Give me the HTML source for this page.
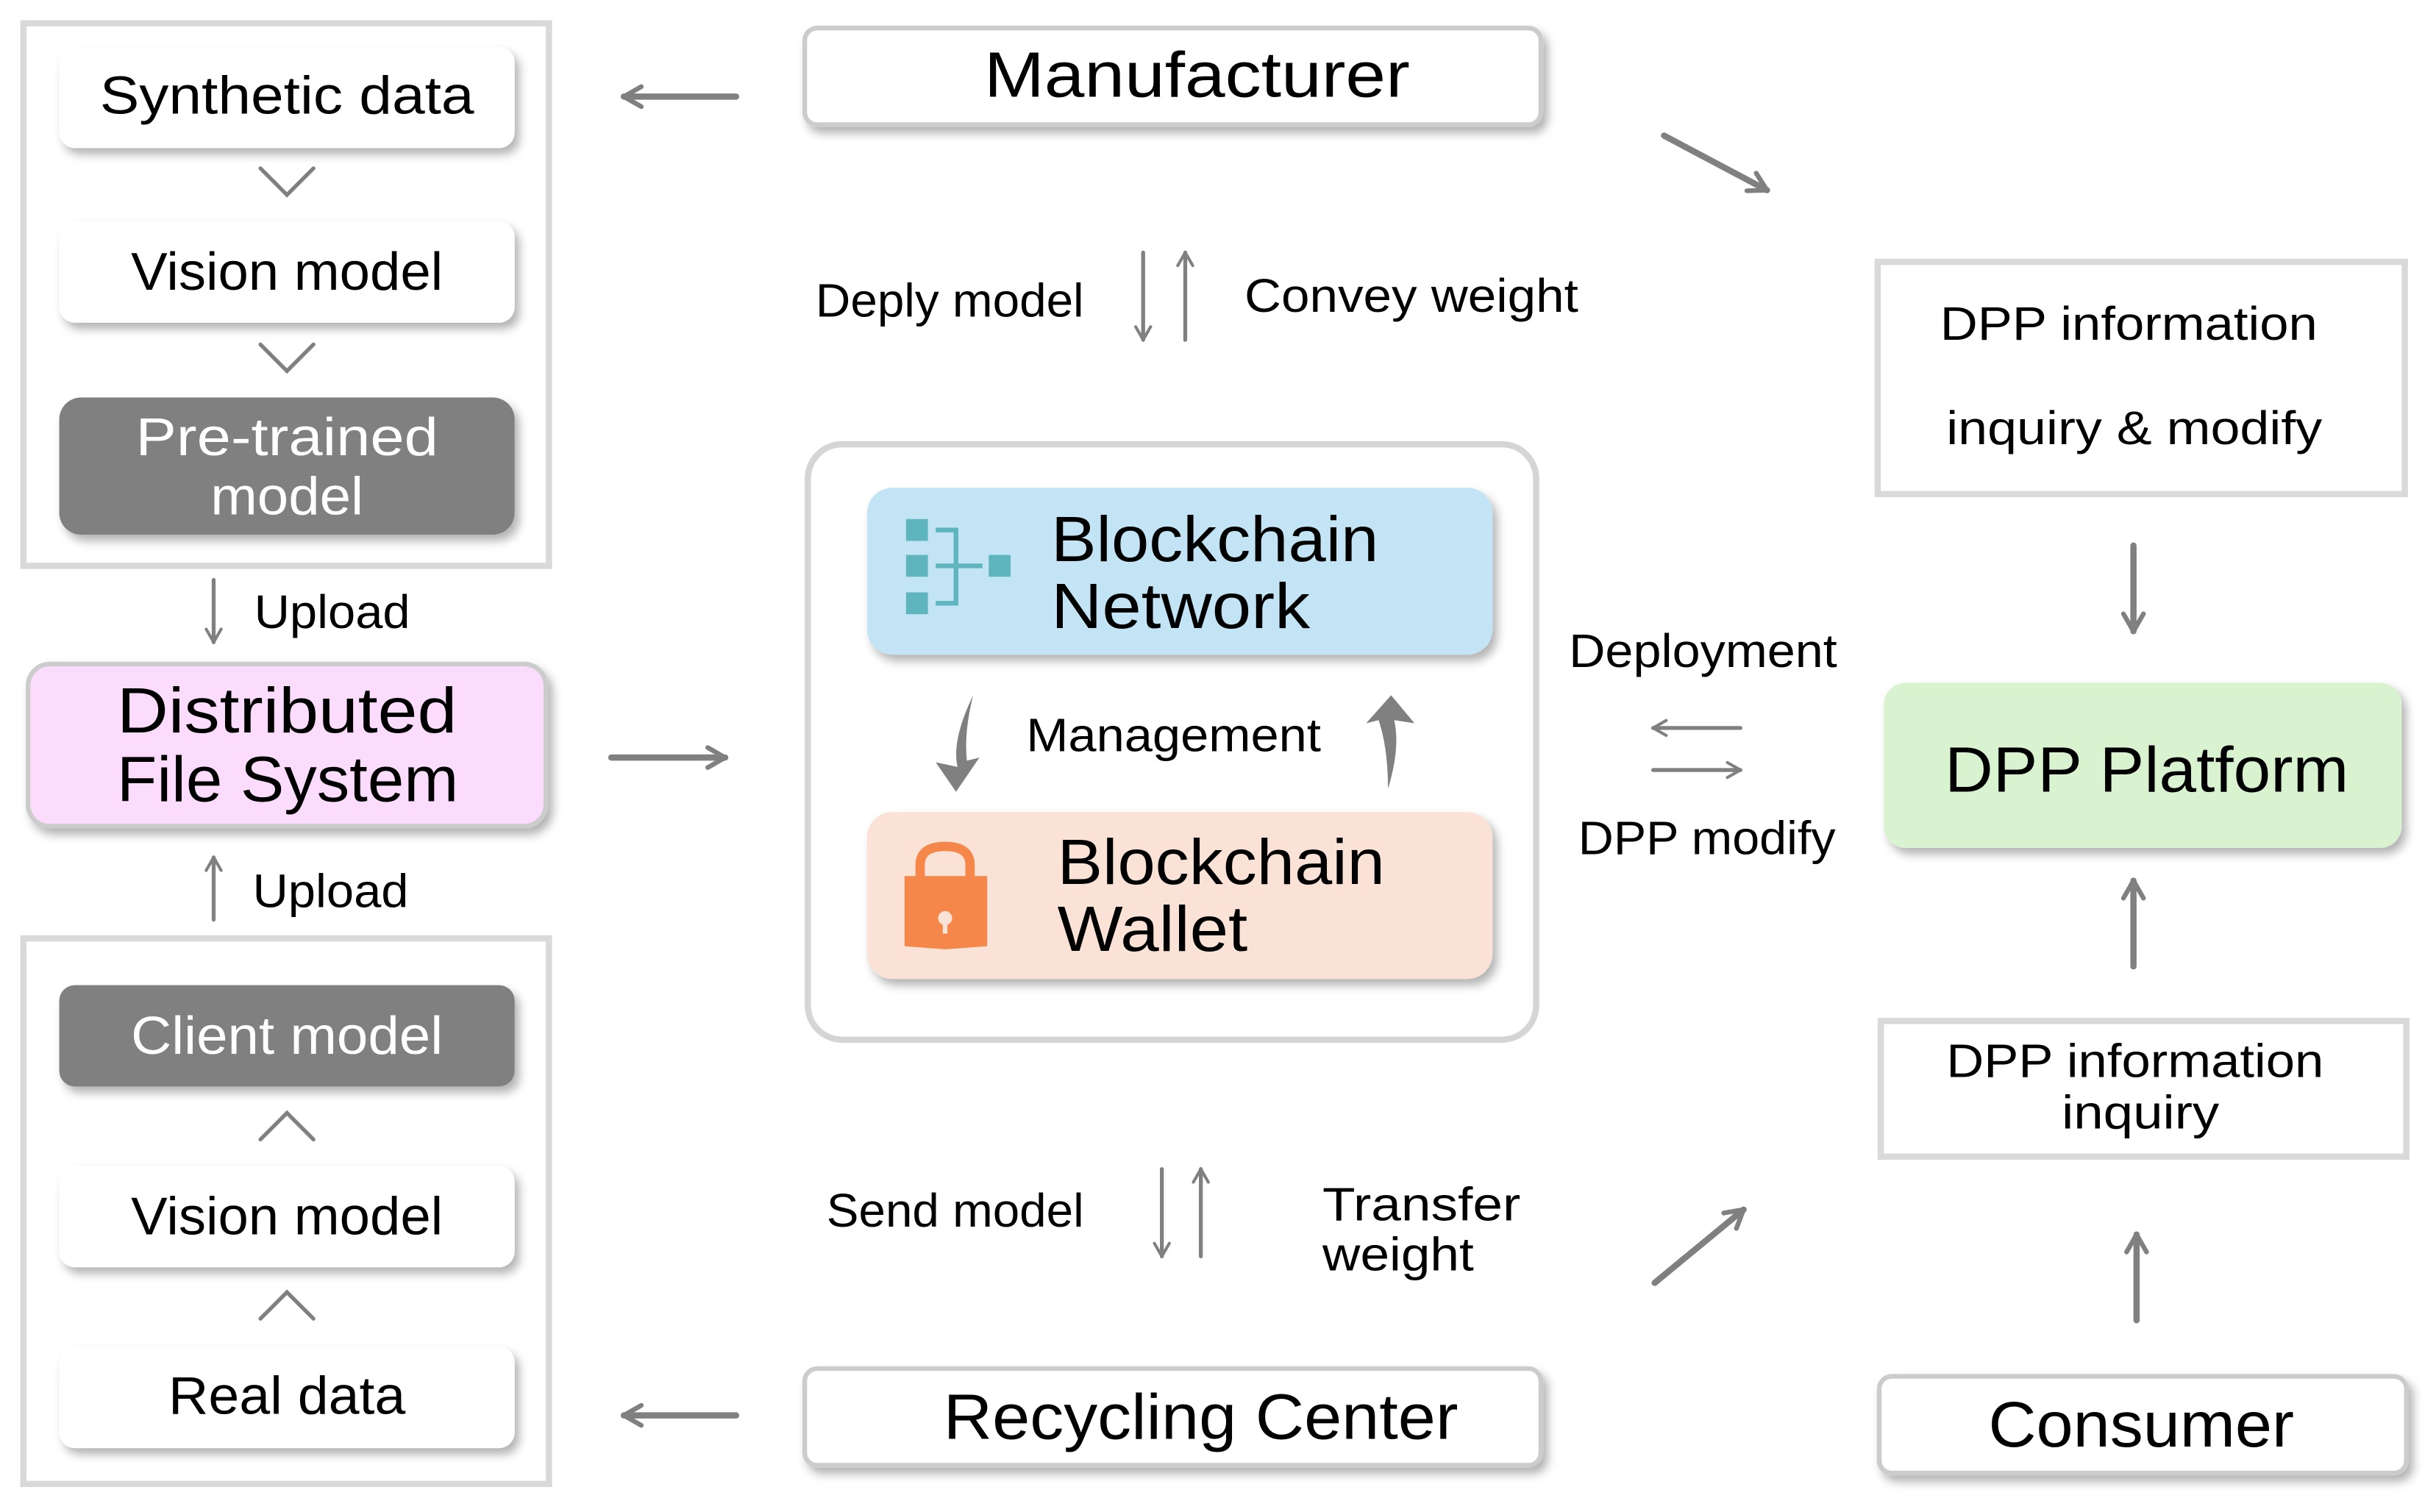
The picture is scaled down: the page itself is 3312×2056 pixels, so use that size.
<!DOCTYPE html>
<html><head><meta charset="utf-8"><style>
html,body{margin:0;padding:0;background:#fff;}
svg{display:block;}
text{font-family:"Liberation Sans",sans-serif;fill:#000;}
</style></head><body>
<svg width="3312" height="2056" viewBox="0 0 1562 970" preserveAspectRatio="none" xmlns="http://www.w3.org/2000/svg">
<defs>
<filter id="sh" x="-10%" y="-20%" width="125%" height="150%"><feDropShadow dx="3" dy="4" stdDeviation="3" flood-color="#000" flood-opacity="0.3"/></filter>
<marker id="ah" viewBox="0 0 10 10" refX="8" refY="5" markerUnits="userSpaceOnUse" markerWidth="16" markerHeight="16" orient="auto-start-reverse"><polyline points="1,1 8,5 1,9" fill="none" stroke="#808080" stroke-width="1.9" stroke-linecap="round" stroke-linejoin="round"/></marker>
<marker id="as" viewBox="0 0 10 10" refX="8" refY="5" markerUnits="userSpaceOnUse" markerWidth="12" markerHeight="12" orient="auto-start-reverse"><polyline points="1,1 8,5 1,9" fill="none" stroke="#808080" stroke-width="1.6" stroke-linecap="round" stroke-linejoin="round"/></marker>
</defs>
<rect width="1562" height="970" fill="#fff"/>
<rect x="15" y="15" width="337" height="348" fill="#fff" stroke="#d9d9d9" stroke-width="4"/>
<rect x="15" y="602" width="337" height="350" fill="#fff" stroke="#d9d9d9" stroke-width="4"/>
<g filter="url(#sh)">
<rect x="38" y="30" width="292" height="65" rx="10" fill="#fff"/>
<rect x="38" y="142" width="292" height="65" rx="10" fill="#fff"/>
<rect x="38" y="255" width="292" height="88" rx="14" fill="#808080"/>
<rect x="38" y="632" width="292" height="65" rx="10" fill="#808080"/>
<rect x="38" y="748" width="292" height="65" rx="10" fill="#fff"/>
<rect x="38" y="864" width="292" height="65" rx="10" fill="#fff"/>
<rect x="18" y="426" width="332" height="104" rx="14" fill="#fcdcfc" stroke="#cccccc" stroke-width="3"/>
<rect x="516" y="18" width="472" height="62" rx="8" fill="#fff" stroke="#cccccc" stroke-width="3"/>
<rect x="516" y="878" width="472" height="62" rx="8" fill="#fff" stroke="#cccccc" stroke-width="3"/>
<rect x="1205" y="883" width="338" height="62" rx="8" fill="#fff" stroke="#cccccc" stroke-width="3"/>
<rect x="1208" y="438" width="332" height="106" rx="14" fill="#d9f2d0"/>
<rect x="556" y="313" width="401" height="107" rx="16" fill="#c2e4f4"/>
<rect x="556" y="521" width="401" height="107" rx="16" fill="#fae2d6"/>
</g>
<rect x="518" y="285" width="467" height="382" rx="22" fill="none" stroke="#d5d5d5" stroke-width="4"/>
<rect x="1204" y="168" width="338" height="149" fill="#fff" stroke="#d9d9d9" stroke-width="4"/>
<rect x="1206" y="655" width="337" height="87" fill="#fff" stroke="#d9d9d9" stroke-width="4"/>

<g fill="none" stroke="#808080" stroke-width="2.5" stroke-linecap="round">
<polyline points="167,108 184,125 201,108"/>
<polyline points="167,221 184,238 201,221"/>
<polyline points="167,731 184,714 201,731"/>
<polyline points="167,846 184,829 201,846"/>
</g>
<g fill="none" stroke="#808080" stroke-width="4" stroke-linecap="round" marker-end="url(#ah)">
<line x1="472" y1="62" x2="400" y2="62"/>
<line x1="472" y1="908" x2="400" y2="908"/>
<line x1="392" y1="486" x2="465" y2="486"/>
<line x1="1067" y1="87" x2="1133" y2="122"/>
<line x1="1061" y1="823" x2="1118" y2="776"/>
<line x1="1368" y1="350" x2="1368" y2="405"/>
<line x1="1368" y1="620" x2="1368" y2="565"/>
<line x1="1370" y1="847" x2="1370" y2="792"/>
</g>
<g fill="none" stroke="#808080" stroke-width="2.5" stroke-linecap="round" marker-end="url(#as)">
<line x1="137" y1="372" x2="137" y2="412"/>
<line x1="137" y1="590" x2="137" y2="550"/>
<line x1="733" y1="162" x2="733" y2="218"/>
<line x1="760" y1="218" x2="760" y2="162"/>
<line x1="745" y1="750" x2="745" y2="806"/>
<line x1="770" y1="806" x2="770" y2="750"/>
<line x1="1116" y1="467" x2="1060" y2="467"/>
<line x1="1060" y1="494" x2="1116" y2="494"/>
</g>
<path d="M624,446 Q610,475 614,492 L600,489 L613,508 L628,486 L620,488 Q618,470 624,446 Z" fill="#808080"/>
<path d="M890,506 Q898,480 894,462 L907,464 L892,446 L876,464 L884,462 Q890,480 890,506 Z" fill="#808080"/>
<g fill="#5fb5bd">
<rect x="581" y="333" width="14" height="14"/>
<rect x="581" y="356" width="14" height="14"/>
<rect x="581" y="380" width="14" height="14"/>
<rect x="634" y="356" width="14" height="14"/>
</g>
<g fill="none" stroke="#5fb5bd" stroke-width="3">
<polyline points="600,340 613,340 613,387 600,387"/>
<line x1="600" y1="363" x2="630" y2="363"/>
</g>
<path d="M590,564 L590,555 Q590,543 606,543 Q622,543 622,555 L622,564" fill="none" stroke="#f5874a" stroke-width="6"/>
<path d="M580,562 L633,562 L633,607 L606,609 L580,607 Z" fill="#f5874a"/>
<circle cx="606" cy="589" r="4.5" fill="#fae2d6"/><rect x="604.5" y="590" width="3" height="9" fill="#fae2d6"/>

<g font-size="34" lengthAdjust="spacingAndGlyphs">
<text x="64" y="73" textLength="240" lengthAdjust="spacingAndGlyphs">Synthetic data</text>
<text x="84" y="186" textLength="200" lengthAdjust="spacingAndGlyphs">Vision model</text>
<text x="87" y="292" textLength="194" lengthAdjust="spacingAndGlyphs" style="fill:#fff">Pre-trained</text>
<text x="135" y="330" textLength="98" lengthAdjust="spacingAndGlyphs" style="fill:#fff">model</text>
<text x="84" y="676" textLength="200" lengthAdjust="spacingAndGlyphs" style="fill:#fff">Client model</text>
<text x="84" y="792" textLength="200" lengthAdjust="spacingAndGlyphs">Vision model</text>
<text x="108" y="907" textLength="152" lengthAdjust="spacingAndGlyphs">Real data</text>
</g>
<g font-size="41">
<text x="75" y="470" textLength="218" lengthAdjust="spacingAndGlyphs">Distributed</text>
<text x="75" y="514" textLength="219" lengthAdjust="spacingAndGlyphs">File System</text>
<text x="631" y="62" textLength="273" lengthAdjust="spacingAndGlyphs">Manufacturer</text>
<text x="605" y="923" textLength="330" lengthAdjust="spacingAndGlyphs">Recycling Center</text>
<text x="1275" y="928" textLength="196" lengthAdjust="spacingAndGlyphs">Consumer</text>
<text x="1247" y="508" textLength="259" lengthAdjust="spacingAndGlyphs">DPP Platform</text>
<text x="674" y="360" textLength="210" lengthAdjust="spacingAndGlyphs">Blockchain</text>
<text x="674" y="403" textLength="166" lengthAdjust="spacingAndGlyphs">Network</text>
<text x="678" y="567" textLength="210" lengthAdjust="spacingAndGlyphs">Blockchain</text>
<text x="678" y="610" textLength="122" lengthAdjust="spacingAndGlyphs">Wallet</text>
</g>
<g font-size="30">
<text x="163" y="403" textLength="100" lengthAdjust="spacingAndGlyphs">Upload</text>
<text x="162" y="582" textLength="100" lengthAdjust="spacingAndGlyphs">Upload</text>
<text x="523" y="203" textLength="172" lengthAdjust="spacingAndGlyphs">Deply model</text>
<text x="798" y="200" textLength="214" lengthAdjust="spacingAndGlyphs">Convey weight</text>
<text x="658" y="482" textLength="189" lengthAdjust="spacingAndGlyphs">Management</text>
<text x="530" y="787" textLength="165" lengthAdjust="spacingAndGlyphs">Send model</text>
<text x="848" y="783" textLength="127" lengthAdjust="spacingAndGlyphs">Transfer</text>
<text x="848" y="815" textLength="97" lengthAdjust="spacingAndGlyphs">weight</text>
<text x="1006" y="428" textLength="172" lengthAdjust="spacingAndGlyphs">Deployment</text>
<text x="1012" y="548" textLength="165" lengthAdjust="spacingAndGlyphs">DPP modify</text>
<text x="1244" y="218" textLength="242" lengthAdjust="spacingAndGlyphs">DPP information</text>
<text x="1248" y="285" textLength="241" lengthAdjust="spacingAndGlyphs">inquiry &amp; modify</text>
<text x="1248" y="691" textLength="242" lengthAdjust="spacingAndGlyphs">DPP information</text>
<text x="1322" y="724" textLength="101" lengthAdjust="spacingAndGlyphs">inquiry</text>
</g>
</svg>
</body></html>
